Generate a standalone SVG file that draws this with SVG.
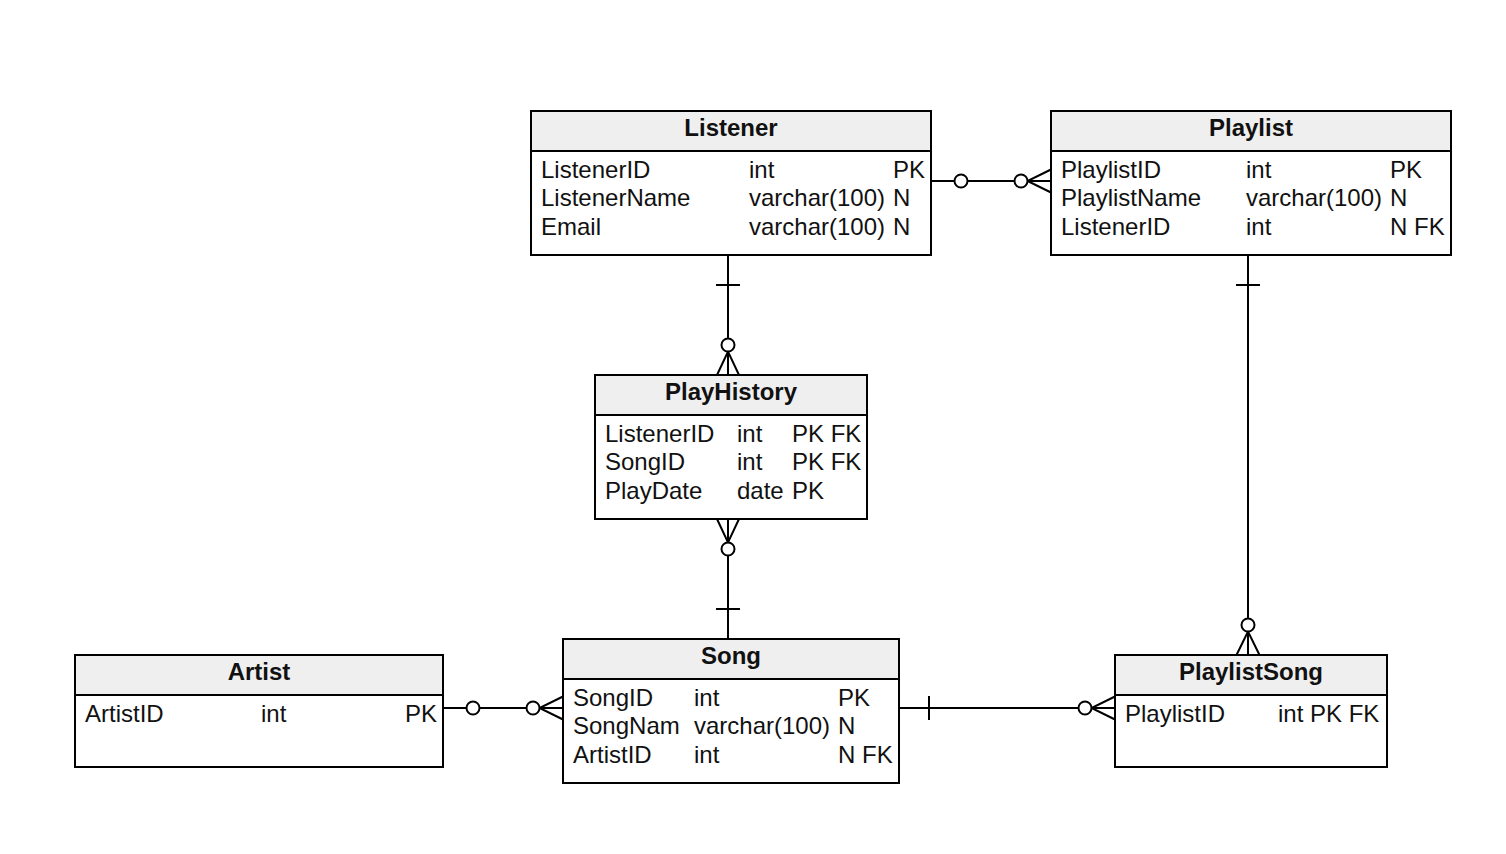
<svg xmlns="http://www.w3.org/2000/svg" width="1506" height="854" viewBox="0 0 1506 854">
<style>
.box{fill:#ffffff;stroke:#000;stroke-width:2}
.hdr{fill:#efefef;stroke:#000;stroke-width:2}
.t{font-family:"Liberation Sans",Arial,sans-serif;font-size:24px;fill:#111}
.h{font-family:"Liberation Sans",Arial,sans-serif;font-size:24px;font-weight:bold;fill:#111;text-anchor:middle}
.ln{fill:none;stroke:#000;stroke-width:2}
.c{fill:#fff;stroke:#000;stroke-width:2}
</style>
<rect width="1506" height="854" fill="#fff"/>
<g id="connectors">
  <!-- Listener - Playlist -->
  <path class="ln" d="M931 181 H1051"/>
  <circle class="c" cx="961" cy="181" r="6.5"/>
  <path class="ln" d="M1051 169.5 L1027.5 181 L1051 192.5"/>
  <circle class="c" cx="1021" cy="181" r="6.5"/>
  <!-- Listener - PlayHistory -->
  <path class="ln" d="M728 255 V375"/>
  <path class="ln" d="M716 285 H740"/>
  <path class="ln" d="M717 375 L728 351.5 L739 375"/>
  <circle class="c" cx="728" cy="345" r="6.5"/>
  <!-- PlayHistory - Song -->
  <path class="ln" d="M728 519 V639"/>
  <path class="ln" d="M716 609 H740"/>
  <path class="ln" d="M717 519 L728 542.5 L739 519"/>
  <circle class="c" cx="728" cy="549" r="6.5"/>
  <!-- Artist - Song -->
  <path class="ln" d="M443 708 H563"/>
  <circle class="c" cx="473" cy="708" r="6.5"/>
  <path class="ln" d="M563 696.5 L539.5 708 L563 719.5"/>
  <circle class="c" cx="533" cy="708" r="6.5"/>
  <!-- Song - PlaylistSong -->
  <path class="ln" d="M899 708 H1115"/>
  <path class="ln" d="M929 696 V720"/>
  <path class="ln" d="M1115 696.5 L1091.5 708 L1115 719.5"/>
  <circle class="c" cx="1085" cy="708" r="6.5"/>
  <!-- Playlist - PlaylistSong -->
  <path class="ln" d="M1248 255 V655"/>
  <path class="ln" d="M1236 285 H1260"/>
  <path class="ln" d="M1236.5 655 L1248 631.5 L1259.5 655"/>
  <circle class="c" cx="1248" cy="625" r="6.5"/>
</g>
<g id="listener">
  <rect class="box" x="531" y="111" width="400" height="144"/>
  <rect class="hdr" x="531" y="111" width="400" height="40"/>
  <text class="h" x="731" y="135.5">Listener</text>
  <text class="t" x="541" y="177.5">ListenerID</text><text class="t" x="749" y="177.5">int</text><text class="t" x="893" y="177.5">PK</text>
  <text class="t" x="541" y="206">ListenerName</text><text class="t" x="749" y="206">varchar(100)</text><text class="t" x="893" y="206">N</text>
  <text class="t" x="541" y="234.5">Email</text><text class="t" x="749" y="234.5">varchar(100)</text><text class="t" x="893" y="234.5">N</text>
</g>
<g id="playlist">
  <rect class="box" x="1051" y="111" width="400" height="144"/>
  <rect class="hdr" x="1051" y="111" width="400" height="40"/>
  <text class="h" x="1251" y="135.5">Playlist</text>
  <text class="t" x="1061" y="177.5">PlaylistID</text><text class="t" x="1246" y="177.5">int</text><text class="t" x="1390" y="177.5">PK</text>
  <text class="t" x="1061" y="206">PlaylistName</text><text class="t" x="1246" y="206">varchar(100)</text><text class="t" x="1390" y="206">N</text>
  <text class="t" x="1061" y="234.5">ListenerID</text><text class="t" x="1246" y="234.5">int</text><text class="t" x="1390" y="234.5">N FK</text>
</g>
<g id="playhistory">
  <rect class="box" x="595" y="375" width="272" height="144"/>
  <rect class="hdr" x="595" y="375" width="272" height="40"/>
  <text class="h" x="731" y="399.5">PlayHistory</text>
  <text class="t" x="605" y="441.5">ListenerID</text><text class="t" x="737" y="441.5">int</text><text class="t" x="792" y="441.5">PK FK</text>
  <text class="t" x="605" y="470">SongID</text><text class="t" x="737" y="470">int</text><text class="t" x="792" y="470">PK FK</text>
  <text class="t" x="605" y="498.5">PlayDate</text><text class="t" x="737" y="498.5">date</text><text class="t" x="792" y="498.5">PK</text>
</g>
<g id="song">
  <rect class="box" x="563" y="639" width="336" height="144"/>
  <rect class="hdr" x="563" y="639" width="336" height="40"/>
  <text class="h" x="731" y="663.5">Song</text>
  <text class="t" x="573" y="705.5">SongID</text><text class="t" x="694" y="705.5">int</text><text class="t" x="838" y="705.5">PK</text>
  <text class="t" x="573" y="734">SongNam</text><text class="t" x="694" y="734">varchar(100)</text><text class="t" x="838" y="734">N</text>
  <text class="t" x="573" y="762.5">ArtistID</text><text class="t" x="694" y="762.5">int</text><text class="t" x="838" y="762.5">N FK</text>
</g>
<g id="artist">
  <rect class="box" x="75" y="655" width="368" height="112"/>
  <rect class="hdr" x="75" y="655" width="368" height="40"/>
  <text class="h" x="259" y="679.5">Artist</text>
  <text class="t" x="85" y="721.5">ArtistID</text><text class="t" x="261" y="721.5">int</text><text class="t" x="405" y="721.5">PK</text>
</g>
<g id="playlistsong">
  <rect class="box" x="1115" y="655" width="272" height="112"/>
  <rect class="hdr" x="1115" y="655" width="272" height="40"/>
  <text class="h" x="1251" y="679.5">PlaylistSong</text>
  <text class="t" x="1125" y="721.5">PlaylistID</text><text class="t" x="1278" y="721.5">int PK FK</text>
</g>
</svg>
